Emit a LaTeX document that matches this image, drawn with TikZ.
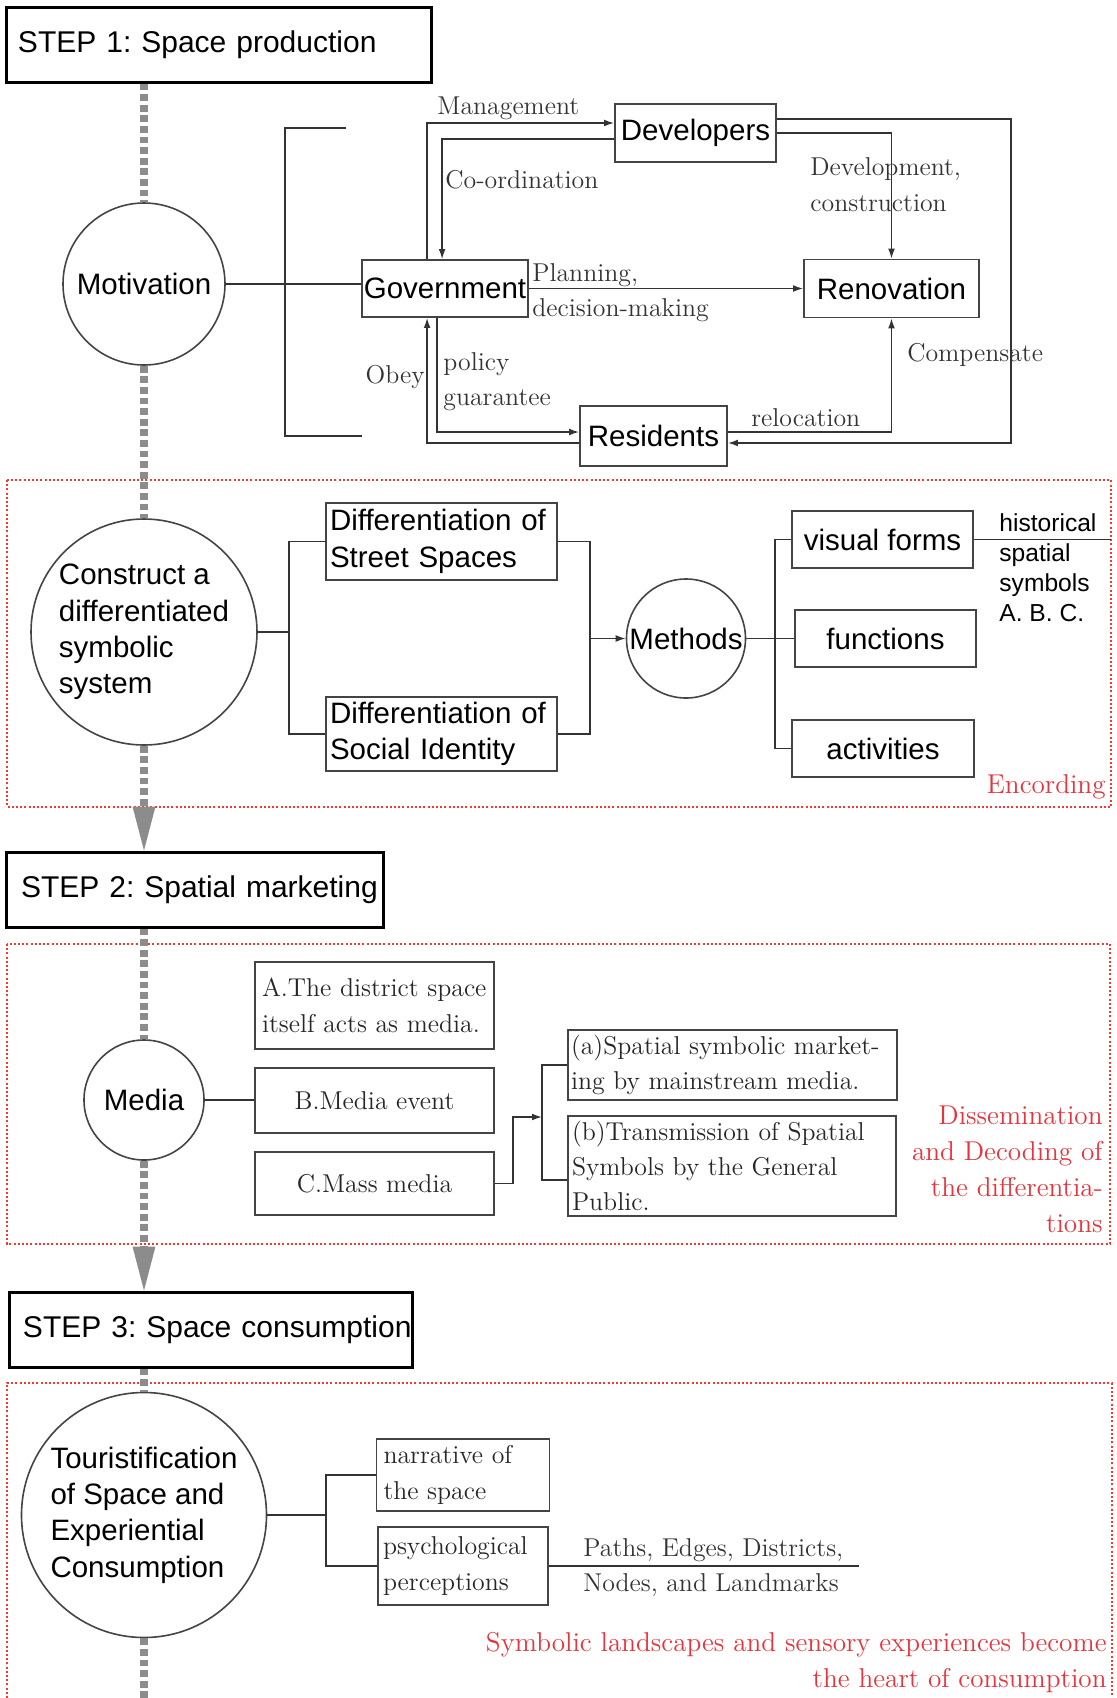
\documentclass[tikz,border=0pt]{standalone}
\usepackage{fontspec}
\setsansfont{Liberation Sans}
\usetikzlibrary{arrows.meta,calc}
\definecolor{lncol}{HTML}{333333}
\definecolor{bxcol}{HTML}{444444}
\definecolor{graycol}{HTML}{8C8C8C}
\definecolor{redcol}{HTML}{E8323C}
\definecolor{reddotcol}{HTML}{F03A32}
\newcommand{\fsans}{\sffamily\fontsize{14.75}{18.2}\selectfont}
\newcommand{\fsmall}{\sffamily\fontsize{12.3}{15}\selectfont}
\newcommand{\fstep}{\sffamily\fontsize{15}{18}\selectfont}
\newcommand{\fserif}{\rmfamily\fontsize{12.9}{17.7}\selectfont}
\newcommand{\fred}{\rmfamily\fontsize{13.6}{18}\selectfont}
\frenchspacing
\tikzset{
  line/.style={draw=lncol, line width=0.7pt},
  arr/.style={line, -{Latex[length=5pt,width=3.4pt]}},
  sbox/.style={draw=bxcol, line width=0.9pt, inner sep=0pt, font=\fsans, align=center},
  rbox/.style={draw=bxcol, line width=0.9pt, inner sep=0pt, font=\fserif, align=center, text=black!85},
  stepbox/.style={draw=black, line width=1.5pt, font=\fstep, align=left, inner ysep=0pt, minimum height=37.5pt},
  circ/.style={draw=bxcol, line width=0.8pt, circle, inner sep=0pt, font=\fsans, align=center},
  lbl/.style={font=\fserif, inner sep=0pt, align=left, text=lncol},
  redlbl/.style={font=\fred, inner sep=0pt, align=right, text=redcol},
  reddot/.style={draw=reddotcol, line width=1.1pt, dash pattern=on 1pt off 1.1pt},
  gdash/.style={draw=graycol, line width=4pt, dash pattern=on 3.4pt off 1.9pt}
}
\begin{document}
\begin{tikzpicture}[x=0.5pt, y=-0.5pt]
\fill[white] (0,0) rectangle (1116,1698);
\useasboundingbox (0,0) rectangle (1116,1698);

% red dotted frames
\draw[reddot] (7,480) rectangle (1111,807);
\draw[reddot] (7,944) rectangle (1110,1244);
\draw[reddot] (7,1698) -- (7,1383) -- (1112,1383) -- (1112,1698);
\coordinate (r1e) at (1111,0);

% ---------- STEP 1 ----------
\node[stepbox, text width=200.5pt, inner xsep=6pt] (s1) at (218.5,44.5) {\mbox{STEP 1: Space production}};
\node[circ, minimum size=81pt] (mot) at (144,284) {Motivation};
\node[sbox, minimum width=83pt, minimum height=28.5pt] (gov) at (445,288.5) {Government};
\node[sbox, minimum width=80.5pt, minimum height=29pt] (dev) at (695.5,133) {Developers};
\node[sbox, minimum width=87.5pt, minimum height=29pt] (ren) at (891.5,288.5) {Renovation};
\node[sbox, minimum width=73.5pt, minimum height=30pt] (res) at (653.5,436) {Residents};

\node[lbl, anchor=west] (lman) at (437,108) {Management};
\node[lbl, anchor=west] (lcoord) at (445,180) {Co-ordination};
\node[lbl, anchor=west] (ldev) at (810,184.5) {Development,\\construction};
\node[lbl, anchor=west] (lplan) at (532,292.5) {Planning,\\decision-making};
\node[lbl, anchor=east] (lobey) at (425,377) {Obey};
\node[lbl, anchor=west] (lpol) at (443,381.5) {policy\\guarantee};
\node[lbl, anchor=west] (lrel) at (751,418) {relocation};
\node[lbl, anchor=west] (lcomp) at (907,355) {Compensate};

\coordinate (bt) at (346,128);
\coordinate (bb) at (362,436);
\coordinate (bx) at (285,0);
\draw[line] (bt) -- (bt -| bx) -- (bb -| bx) -- (bb);
\draw[line] (mot.east) -- (mot.east -| gov.west);
\draw[arr] ([xshift=33pt]gov.north west) |- ([yshift=5pt]dev.west);
\draw[arr] ([yshift=-3pt]dev.west) -| ([xshift=40.5pt]gov.north west);
\draw[arr] (dev.east) -| (ren.north);
\coordinate (cr) at (1011,443);
\draw[arr] ([yshift=7pt]dev.east) -| (cr) -- (cr -| res.east);
\draw[arr] (gov.east) -- (ren.west);
\draw[arr] ([yshift=2pt]res.east) -| (ren.south);
\draw[arr] ([xshift=38pt]gov.south west) |- ([yshift=2pt]res.west);
\draw[arr] ([yshift=-3.5pt]res.west) -| ([xshift=33pt]gov.south west);

% ---------- Encoding ----------
\node[circ, minimum size=113pt, align=left] (con) at (144,632) {Construct a\\differentiated\\symbolic\\system};
\node[sbox, minimum height=38.5pt, text width=111.5pt, inner xsep=2pt, align=left] (d1) at (441.5,541.5) {Differentiation of\\Street Spaces};
\node[sbox, minimum height=37pt, text width=111.5pt, inner xsep=2pt, align=left] (d2) at (441.5,734) {Differentiation of\\Social Identity};
\coordinate (lb) at (289,0);
\draw[line] (con.east) -- (con.east -| lb);
\draw[line] (d1.west) -- (d1.west -| lb) -- (d2.west -| lb) -- (d2.west);
\node[circ, minimum size=59.5pt] (meth) at (686,638.5) {Methods};
\coordinate (rb) at (590,0);
\draw[line] (d1.east) -- (d1.east -| rb) -- (d2.east -| rb) -- (d2.east);
\draw[arr] (meth.west -| rb) -- (meth.west);
\node[sbox, minimum width=90.5pt, minimum height=28.5pt] (vf) at (882.5,539.5) {visual forms};
\node[sbox, minimum width=90.5pt, minimum height=28.5pt] (fn) at (885.5,638.5) {functions};
\node[sbox, minimum width=91pt, minimum height=28.5pt] (act) at (883,748.5) {activities};
\coordinate (mb) at (775,0);
\draw[line] (meth.east) -- (fn.west);
\draw[line] (vf.west) -- (vf.west -| mb) -- (act.west -| mb) -- (act.west);
\draw[line] (vf.east) -- (vf.east -| r1e);
\node[font=\fsmall, align=left, anchor=west, inner sep=0pt] (hist) at (999,568) {historical\\spatial\\symbols\\A. B. C.};
\node[redlbl, anchor=east] (enc) at (1106,787) {Encording};

% ---------- STEP 2 ----------
\node[stepbox, text width=173.5pt, inner xsep=7.5pt] (s2) at (194.5,889.5) {\mbox{STEP 2: Spatial marketing}};
\node[circ, minimum size=60pt] (med) at (144,1100) {Media};
\node[rbox, minimum height=43.5pt, text width=112.5pt, inner xsep=3.5pt, align=left] (A) at (374.5,1005.5) {\mbox{A.The district space}\\\mbox{itself acts as media.}};
\node[rbox, minimum width=119.5pt, minimum height=32.5pt] (B) at (374.5,1100.5) {B.Media event};
\node[rbox, minimum width=119.5pt, minimum height=31.5pt] (C) at (374.5,1183.5) {C.Mass media};
\draw[line] (med.east) -- (med.east -| B.west);
\node[rbox, minimum height=35pt, text width=161.5pt, inner xsep=1.5pt, align=left] (pa) at (732.5,1065) {\mbox{(a)Spatial symbolic market-}\\\mbox{ing by mainstream media.}};
\node[rbox, minimum height=50pt, text width=160pt, inner xsep=2pt, align=left] (pb) at (732,1166) {\mbox{(b)Transmission of Spatial}\\\mbox{Symbols by the General}\\Public.};
\coordinate (br) at (542,1117);
\draw[line] (pa.west) -- (pa.west -| br) -- ([yshift=-7pt]pb.west -| br) -- ([yshift=-7pt]pb.west);
\draw[arr] (C.east) -- ++(18,0) |- (br);
\node[redlbl, anchor=east] (dis) at (1103,1169) {Dissemination\\and Decoding of\\the differentia-\\tions};

% ---------- STEP 3 ----------
\node[stepbox, text width=187.5pt, inner xsep=7pt] (s3) at (210.5,1329.5) {\mbox{STEP 3: Space consumption}};
\node[circ, minimum size=122.5pt, align=left] (tour) at (144,1515) {Touristification\\of Space and\\Experiential\\Consumption};
\node[rbox, minimum height=36pt, text width=79.5pt, inner xsep=3.5pt, align=left] (nar) at (463,1475) {narrative of\\the space};
\node[rbox, minimum height=39pt, text width=80pt, inner xsep=2.5pt, align=left] (psy) at (463,1566) {\mbox{psychological}\\perceptions};
\coordinate (tb) at (326,0);
\draw[line] (tour.east) -- (tour.east -| tb);
\draw[line] (nar.west) -- (nar.west -| tb) -- (psy.west -| tb) -- (psy.west);
\coordinate (pe) at (859,0);
\draw[line] (psy.east) -- (psy.east -| pe);
\node[lbl, anchor=west] (paths) at (583,1567.5) {Paths, Edges, Districts,\\Nodes, and Landmarks};
\node[redlbl, anchor=east] (sym) at (1107,1662.5) {Symbolic landscapes and sensory experiences become\\the heart of consumption};

% ---------- grey spine ----------
\draw[gdash] (mot.north |- s1.south) -- (mot.north);
\draw[gdash] (mot.south) -- (con.north);
\draw[gdash] (con.south) -- ([yshift=10pt]con.south |- s2.north);
\fill[graycol] (con.south |- s2.north) -- ++(-11.5,-44) -- ++(23,0) -- cycle;
\draw[gdash] (med.north |- s2.south) -- (med.north);
\draw[gdash] (med.south) -- ([yshift=10pt]med.south |- s3.north);
\fill[graycol] (med.south |- s3.north) -- ++(-11.5,-44) -- ++(23,0) -- cycle;
\draw[gdash] (tour.north |- s3.south) -- (tour.north);
\coordinate (bot) at (144,1698);
\draw[gdash] (tour.south) -- (bot);
\end{tikzpicture}
\end{document}
